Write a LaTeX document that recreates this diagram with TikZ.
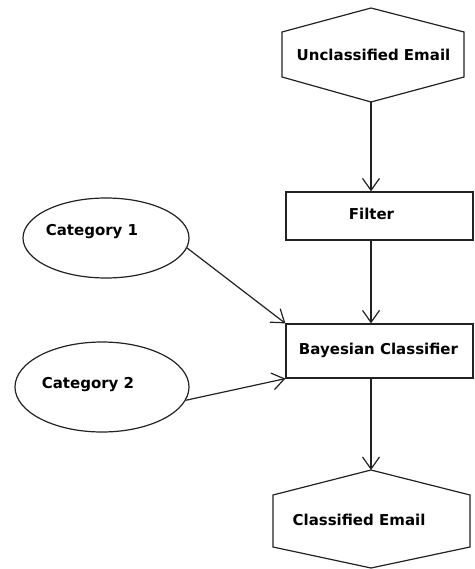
\documentclass[tikz,border=0pt]{standalone}
\usepackage{fontspec}
\setmainfont{DejaVu Sans}
\usetikzlibrary{arrows.meta, shapes.geometric}
\tikzset{
	lbl/.style={font=\bfseries\fontsize{15}{18}\selectfont, inner sep=0pt, text=black},
	box/.style={shape=rectangle, draw, line width=1.2pt},
	oval/.style={shape=ellipse, draw, line width=1.2pt, inner sep=0pt},
	edge/.style={line width=1.2pt, line join=miter},
	arr/.style={line width=1.2pt, -{Straight Barb[length=12pt, width=17pt, line width=1.2pt]}}
}
\begin{document}
\begin{tikzpicture}[x=1pt, y=-1pt, color={rgb,255:red,34;green,34;blue,34}]
	\useasboundingbox (0,0) rectangle (474,569);

	% Shapes and labels:

	\coordinate (H1t) at (371, 8);
	\coordinate (H1b) at (371, 102);
	\draw[edge] (H1t) -- (464, 32) -- (464, 77) -- (H1b) -- (282, 77) -- (282, 32) -- cycle;
	\node[lbl](T1) at (373.5, 55){Unclassified Email};

	\node[box, minimum width=187pt, minimum height=48pt](N2) at (379.5, 216){};
	\node[lbl](T2) at (371.5, 214){Filter};

	\node[box, minimum width=187pt, minimum height=54pt](N3) at (379.5, 351){};
	\node[lbl](T3) at (378.5, 350){Bayesian Classifier};

	\coordinate (H2t) at (371, 470);
	\coordinate (H2b) at (371, 568);
	\draw[edge] (H2t) -- (470, 495) -- (470, 547) -- (H2b) -- (273, 547) -- (273, 495) -- cycle;
	\node[lbl](T4) at (359, 520){Classified Email};

	\node[oval, minimum width=166pt, minimum height=80pt](C1) at (106, 238){};
	\node[lbl](T5) at (92, 232){Category 1};
	\node[oval, minimum width=174pt, minimum height=90pt](C2) at (102, 387){};
	\node[lbl](T6) at (88, 385){Category 2};

	% Connectors:

	\draw[arr] (H1b) -- (H1b |- N2.north);
	\draw[arr] (H1b |- N2.south) -- (H1b |- N3.north);
	\draw[arr] (H1b |- N3.south) -- (H2t);
	\draw[arr] (C1.-7) -- (N3.north west);
	\draw[arr] (C2.-9) -- (N3.south west);
\end{tikzpicture}
\end{document}
